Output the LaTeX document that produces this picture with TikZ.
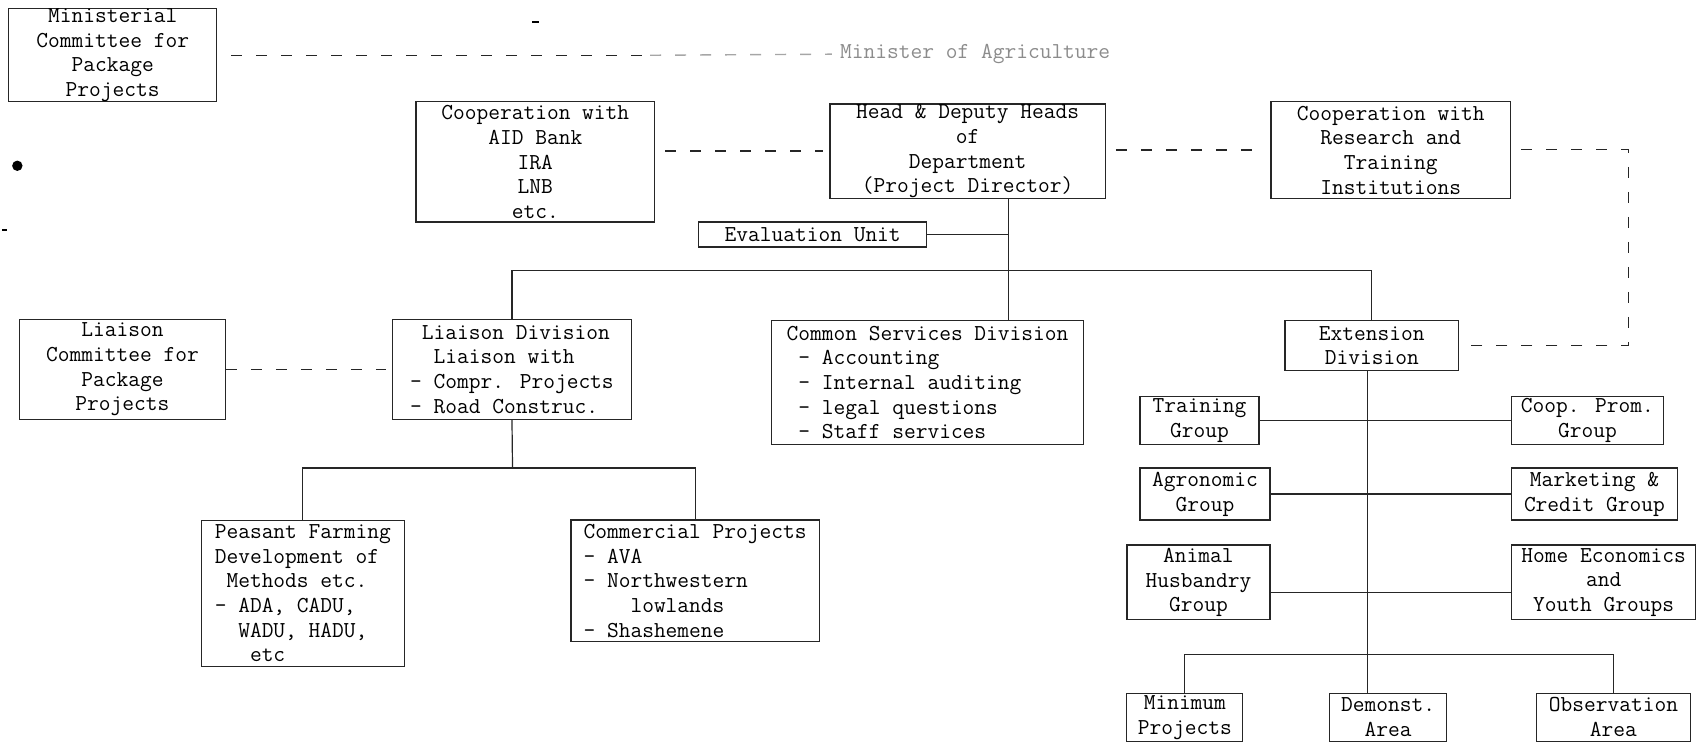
\documentclass[tikz,border=0pt]{standalone}
\usepackage{fontspec}
\newcommand\typew{\ttfamily\fontsize{11.4pt}{12.35pt}\selectfont}
\begin{document}
\begin{tikzpicture}[x=0.5418pt,y=-0.5418pt,
  box/.style={draw=black!85, line width=0.6pt, inner sep=0pt, align=center, font=\typew},
  lbox/.style={box, align=left},
  link/.style={draw=black!85, line width=0.6pt},
  dline/.style={draw=black!85, line width=0.7pt, dash pattern=on 5.5pt off 7pt},
  faint/.style={dline, draw=black!35}]
\useasboundingbox (0,0) rectangle (1568,685);

% top level
\node[box, minimum width=104.0pt, minimum height=46.6pt] (min) at (104,51) {Ministerial\\Committee for\\Package\\Projects};
\node[anchor=west, font=\typew, text=black!45, inner sep=0pt] (mag) at (775,50) {Minister of Agriculture};
\coordinate (fade) at (600,51);

\node[box, minimum width=119.2pt, minimum height=60.1pt] (aid) at (494,149.5) {Cooperation with\\AID Bank\\IRA\\LNB\\etc.};
\node[box, minimum width=137.6pt, minimum height=47.1pt] (head) at (893,139.5) {Head \& Deputy Heads\\of\\Department\\(Project Director)};
\node[box, minimum width=119.7pt, minimum height=48.2pt] (res) at (1283.5,138.5) {Cooperation with\\Research and\\Training\\Institutions};
\node[box, minimum width=113.8pt, minimum height=12.5pt] (eval) at (750,216.5) {Evaluation Unit};

% divisions
\node[box, minimum width=102.9pt, minimum height=49.8pt] (lc) at (113,341) {Liaison\\Committee for\\Package\\Projects};
\node[lbox, minimum width=119.7pt, minimum height=49.8pt] (ld) at (472.5,341) {\ Liaison Division\\\ \ Liaison with\\- Compr. Projects\\- Road Construc.};
\node[lbox, minimum width=156.0pt, minimum height=61.8pt] (cs) at (856,353) {Common Services Division\\\ - Accounting\\\ - Internal auditing\\\ - legal questions\\\ - Staff services};
\node[box, minimum width=86.7pt, minimum height=24.9pt] (ext) at (1266,319) {Extension\\Division};

% liaison projects
\node[lbox, minimum width=101.3pt, minimum height=73.1pt] (pf) at (279.5,547.5) {Peasant Farming\\Development of\\\ Methods etc.\\- ADA, CADU,\\\ \ WADU, HADU,\\\ \ \ etc};
\node[lbox, minimum width=124.1pt, minimum height=60.7pt] (cp) at (641.5,536) {Commercial Projects\\- AVA\\- Northwestern\\\ \ \ \ lowlands\\- Shashemene};

% extension groups
\node[box, minimum width=59.6pt, minimum height=23.8pt] (tg) at (1107,388) {Training\\Group};
\node[box, minimum width=75.9pt, minimum height=23.8pt] (cpg) at (1465,388) {Coop. Prom.\\Group};
\node[box, minimum width=65.0pt, minimum height=26.0pt] (ag) at (1112,456) {Agronomic\\Group};
\node[box, minimum width=82.9pt, minimum height=26.0pt] (mcg) at (1471.5,456) {Marketing \&\\Credit Group};
\node[box, minimum width=71.5pt, minimum height=37.4pt] (ah) at (1106,537.5) {Animal\\Husbandry\\Group};
\node[box, minimum width=92.1pt, minimum height=37.4pt] (he) at (1480,537.5) {Home Economics\\and\\Youth Groups};

\node[box, minimum width=58.0pt, minimum height=23.8pt] (mp) at (1093.5,662) {Minimum\\Projects};
\node[box, minimum width=58.5pt, minimum height=23.8pt] (da) at (1281,662) {Demonst.\\Area};
\node[box, minimum width=76.9pt, minimum height=23.8pt] (oa) at (1489,662) {Observation\\Area};

% junction points
\coordinate (trunk) at (931,250);
\coordinate (lbar) at (473,432);
\coordinate (ahline) at (1262,547);
\coordinate (bbar) at (1262,604);
\coordinate (rc) at (1503,138);

% dashed liaison lines
\path[dline] ([xshift=7pt]min.east) -- (fade);
\path[faint] (fade) -- ([xshift=-4pt]mag.west);
\path[dline] ([xshift=5pt]aid.east |- head.west) -- ([xshift=-3pt]head.west);
\path[dline] ([xshift=5pt]head.east |- res.west) -- ([xshift=-3pt]res.west);
\path[dline] ([xshift=5pt]res.east |- rc) -- (rc) -- (rc |- ext.east) -- ([xshift=3pt]ext.east);
\path[dline] (lc.east) -- ([xshift=-3pt]ld.west);

% solid structure lines
\path[link] (head.south -| trunk) -- (cs.north -| trunk);
\path[link] (eval.east) -- (eval.east -| trunk);
\path[link] (ld.north) |- (trunk) -| (ext.north);
\path[link] (ld.south) -- (lbar);
\path[link] (pf.north) |- (lbar) -| (cp.north);
\path[link] (ext.south -| bbar) -- (da.north -| bbar);
\path[link] (tg.east) -- (cpg.west);
\path[link] (ag.east) -- (mcg.west);
\path[link] (ah.east |- ahline) -- (he.west |- ahline);
\path[link] (mp.north) |- (bbar) -| (oa.north);

% specks on the sheet
\fill (16,153) circle (2.6pt);
\fill (491,19) rectangle (497,21);
\fill (2,211) rectangle (6,213);
\end{tikzpicture}
\end{document}
